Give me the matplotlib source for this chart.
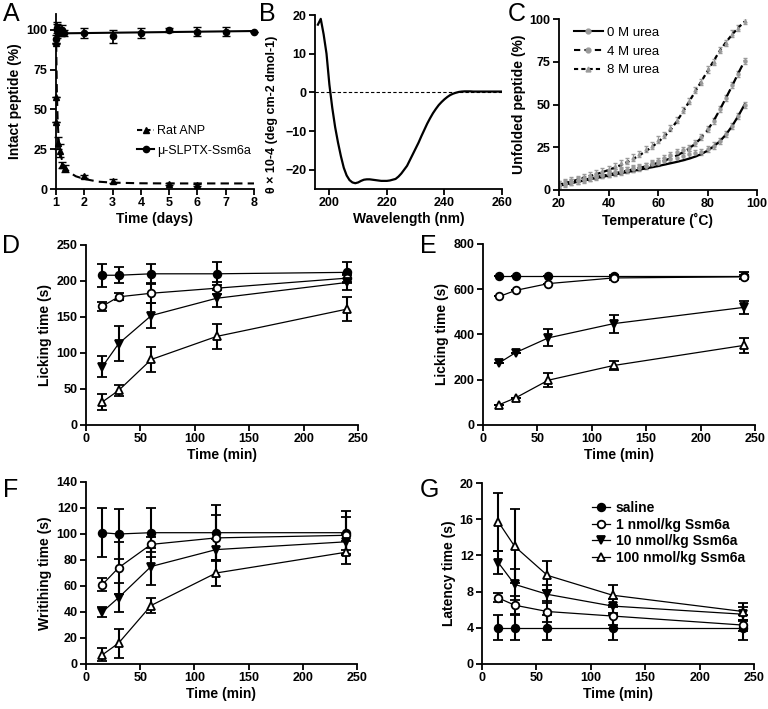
import matplotlib
matplotlib.use("Agg")
import matplotlib.pyplot as plt
import numpy as np

plt.rcParams['font.family'] = ['Liberation Sans', 'DejaVu Sans']
plt.rcParams['mathtext.default'] = 'regular'

# ---------------- Panel A data ----------------
anp_x = [1.0, 1.0, 1.01, 1.08, 1.14, 1.22, 1.32, 2, 3, 5, 6]
anp_y = [92, 58, 42, 29, 24, 15, 13, 8, 5, 3, 2.5]
anp_err = [0, 0, 0, 4, 4, 2, 2, 1, 1, 0.5, 0.5]
anp_fit_x = [1.0, 1.03, 1.06, 1.1, 1.15, 1.2, 1.3, 1.4, 1.5, 1.7, 2.0, 2.5, 3.0, 4.0, 5.0, 6.0, 7.0, 8.0]
anp_fit_y = [100, 62, 42, 30, 23, 19, 14.5, 12, 10.2, 8.0, 6.3, 4.6, 4.0, 3.6, 3.5, 3.5, 3.5, 3.5]
ssm_x = [1.0, 1.02, 1.04, 1.06, 1.08, 1.1, 1.15, 1.2, 1.3, 2, 3, 4, 5, 6, 7, 8]
ssm_y = [94, 100, 101, 99, 100, 98, 99, 100, 98, 98, 96, 98, 100, 99, 99, 99]
ssm_err = [3, 5, 3, 2, 3, 2, 2, 3, 2, 3, 4, 3, 1, 3, 3, 0]
ssm_fit_x = [1.0, 8.0]
ssm_fit_y = [97.8, 99.3]

# ---------------- Panel B data ----------------
cd_wl = list(range(196, 261))
cd_theta = [17.5, 19.0, 15.0, 10.0, 2.0, -4.0, -9.0, -13.0, -16.5, -19.5, -21.5,
            -22.7, -23.3, -23.5, -23.3, -22.9, -22.6, -22.5, -22.5, -22.6, -22.7,
            -22.8, -22.9, -22.9, -22.9, -22.8, -22.6, -22.4, -21.8, -21.0, -20.0,
            -19.0, -17.5, -16.0, -14.5, -13.0, -11.3, -9.7, -8.1, -6.7, -5.4,
            -4.3, -3.3, -2.5, -1.8, -1.2, -0.7, -0.35, -0.1, 0.1, 0.2,
            0.25, 0.25, 0.25, 0.2, 0.2, 0.2, 0.2, 0.2, 0.2, 0.2, 0.2, 0.2, 0.2, 0.2]

# ---------------- Panel C data ----------------
temp = [20, 22.5, 25, 27.5, 30, 32.5, 35, 37.5, 40, 42.5, 45, 47.5, 50, 52.5, 55,
        57.5, 60, 62.5, 65, 67.5, 70, 72.5, 75, 77.5, 80, 82.5, 85, 87.5, 90, 92.5, 95]
u0_pts = [3.0, 3.5, 4.8, 5.2, 6.0, 6.9, 7.5, 8.6, 9.5, 10.2, 10.6, 11.8, 12.5, 13.1, 14.2,
          15.0, 15.8, 17.0, 18.2, 18.5, 19.6, 20.8, 21.5, 22.4, 24.0, 26.0, 28.8, 32.6, 37.4, 43.2, 49.5]
u0_fit = [2.5, 3.3, 4.0, 4.8, 5.5, 6.3, 7.0, 7.7, 8.4, 9.1, 9.8, 10.5, 11.2, 11.9, 12.6,
          13.3, 14.0, 14.8, 15.6, 16.4, 17.3, 18.3, 19.5, 21.0, 23.0, 25.5, 28.5, 32.5, 37.5, 43.5, 50.0]
u4_pts = [3.2, 4.0, 4.8, 5.6, 6.5, 7.2, 8.1, 8.9, 9.6, 10.5, 11.0, 11.9, 12.6, 13.5, 14.2,
          15.6, 16.8, 18.5, 20.6, 22.0, 23.5, 24.5, 27.5, 31.0, 35.8, 40.2, 47.5, 53.6, 61.4, 68.0, 75.2]
u4_fit = [2.5, 3.4, 4.3, 5.1, 5.9, 6.7, 7.5, 8.3, 9.0, 9.8, 10.5, 11.3, 12.1, 12.9, 13.8,
          14.8, 15.9, 17.1, 18.5, 20.1, 22.0, 24.2, 27.0, 30.5, 35.0, 40.5, 47.0, 54.0, 61.0, 68.5, 75.5]
u8_pts = [3.5, 4.5, 5.8, 6.5, 7.6, 8.8, 9.8, 11.0, 12.4, 13.8, 15.5, 16.8, 19.0, 21.0, 23.8,
          26.0, 29.5, 32.0, 36.5, 41.0, 46.8, 52.0, 58.5, 63.0, 70.5, 75.0, 82.0, 86.0, 91.5, 94.5, 99.0]
u8_fit = [3.0, 4.0, 5.0, 6.0, 7.0, 8.1, 9.2, 10.4, 11.7, 13.1, 14.6, 16.3, 18.2, 20.3, 22.6,
          25.1, 28.0, 31.2, 35.0, 40.0, 45.5, 51.5, 57.5, 63.5, 69.5, 75.5, 81.5, 86.5, 91.0, 95.0, 98.5]
urea_labels = ['0 M urea', '4 M urea', '8 M urea']

# ---------------- Panels D-G data ----------------
t = [15, 30, 60, 120, 240]
groups = ['saline', '1 nmol/kg Ssm6a', '10 nmol/kg Ssm6a', '100 nmol/kg Ssm6a']

D_y = [[208, 208, 210, 210, 212], [165, 178, 183, 190, 204],
       [81, 113, 152, 176, 198], [32, 48, 91, 123, 161]]
D_e = [[16, 11, 13, 16, 15], [6, 5, 13, 8, 6],
       [15, 24, 17, 12, 10], [11, 8, 17, 17, 17]]

E_y = [[660, 660, 660, 660, 660], [568, 595, 625, 650, 655],
       [275, 320, 385, 448, 520], [90, 120, 198, 263, 352]]
E_e = [[0, 0, 0, 5, 15], [0, 0, 0, 8, 8],
       [0, 0, 38, 40, 28], [0, 0, 30, 18, 32]]

F_y = [[101, 100, 101, 101, 101], [61, 74, 92, 97, 99],
       [40, 51, 75, 88, 94], [7, 16, 45, 70, 86]]
F_e = [[19, 19, 19, 21, 17], [5, 20, 6, 18, 14],
       [4, 11, 14, 8, 6], [5, 11, 6, 10, 9]]

G_y = [[4, 4, 4, 4, 4], [7.3, 6.5, 5.8, 5.3, 4.3],
       [11.2, 8.8, 7.7, 6.4, 5.5], [15.7, 13.0, 9.8, 7.6, 5.8]]
G_e = [[1.4, 1.4, 1.4, 1.4, 1.4], [0.5, 1.0, 1.2, 1.0, 0.6],
       [1.3, 1.7, 1.0, 0.8, 0.8], [3.2, 4.1, 1.6, 1.1, 0.9]]

# ---------------- figure ----------------
W, H = 768, 709
fig = plt.figure(figsize=(W / 100, H / 100), dpi=100)

def add_ax(l, r, t_, b):
    return fig.add_axes([l / W, 1 - b / H, (r - l) / W, (b - t_) / H])

TICK = 9
LAB = 10

def style(ax):
    for s in ['top', 'right']:
        ax.spines[s].set_visible(False)
    for s in ['left', 'bottom']:
        ax.spines[s].set_linewidth(1.3)
    ax.tick_params(direction='out', length=4, width=1.3, labelsize=TICK, pad=2)
    for lbl in ax.get_xticklabels() + ax.get_yticklabels():
        lbl.set_fontweight('bold')

def letter(x, y, s):
    fig.text(x / W, 1 - y / H, s, fontsize=18, ha='left', va='top')

# Panel A
axA = add_ax(56, 254, 14, 189)
axA.plot(anp_fit_x, anp_fit_y, 'k--', lw=1.5, dashes=(4, 2.5))
axA.errorbar(anp_x, anp_y, yerr=anp_err, fmt='^', color='k', ms=5, lw=0,
             elinewidth=1.3, capsize=3, clip_on=False)
axA.plot(ssm_fit_x, ssm_fit_y, 'k-', lw=1.5)
axA.errorbar(ssm_x, ssm_y, yerr=ssm_err, fmt='o', color='k', ms=4.5, lw=0,
             elinewidth=1.3, capsize=3, clip_on=False)
axA.set_xlim(1, 8)
axA.set_ylim(0, 110)
axA.set_xticks(range(1, 9))
axA.set_yticks([0, 25, 50, 75, 100])
axA.set_xlabel('Time (days)', fontsize=LAB, fontweight='bold', labelpad=2)
axA.set_ylabel('Intact peptide (%)', fontsize=LAB, fontweight='bold', labelpad=3)
hA1, = axA.plot([], [], 'k--', marker='^', ms=4, lw=1.5, dashes=(2.5, 1.5))
hA2, = axA.plot([], [], 'k-', marker='o', ms=4.5, lw=1.5)
axA.legend([hA1, hA2], ['Rat ANP', 'μ-SLPTX-Ssm6a'], loc='upper left',
           bbox_to_anchor=(0.38, 0.40), frameon=False, fontsize=9,
           handlelength=1.3, handletextpad=0.3, labelspacing=0.6, borderpad=0)
style(axA)

# Panel B
axB = add_ax(315, 502, 15, 189)
axB.axhline(0, color='k', lw=0.8, ls=(0, (3, 2)))
axB.plot(cd_wl, cd_theta, 'k-', lw=1.6)
axB.set_xlim(195, 260)
axB.set_ylim(-25, 20)
axB.set_xticks([200, 220, 240, 260])
axB.set_yticks([-20, -10, 0, 10, 20])
axB.set_xlabel('Wavelength (nm)', fontsize=LAB, fontweight='bold', labelpad=2)
axB.set_ylabel('θ × 10-4 (deg cm-2 dmol-1)', fontsize=9, fontweight='bold', labelpad=3)
axB.yaxis.set_label_coords(-0.2, 0.43)
style(axB)

# Panel C
axC = add_ax(559, 757, 19, 190)
gray = '#9a9a9a'
for pts, mk in zip([u0_pts, u4_pts, u8_pts], ['o', 'o', '^']):
    axC.errorbar(temp, pts, yerr=1.8, fmt=mk, color=gray, ms=2.2, lw=0,
                 elinewidth=0.9, capsize=1.2)
axC.plot(temp, u0_fit, 'k-', lw=1.6)
axC.plot(temp, u4_fit, 'k--', lw=1.6, dashes=(4, 2))
axC.plot(temp, u8_fit, 'k--', lw=1.6, dashes=(2, 1.5))
axC.set_xlim(20, 100)
axC.set_ylim(0, 100)
axC.set_xticks([20, 40, 60, 80, 100])
axC.set_yticks([0, 25, 50, 75, 100])
axC.set_xlabel('Temperature (˚C)', fontsize=LAB, fontweight='bold', labelpad=2)
axC.set_ylabel('Unfolded peptide (%)', fontsize=LAB, fontweight='bold', labelpad=3)
hC = [axC.plot([], [], color='k', ls='-', lw=1.5, marker='o', ms=3.5, mfc=gray, mec=gray)[0],
      axC.plot([], [], color='k', ls='--', dashes=(3, 2), lw=1.5, marker='o', ms=3.5, mfc=gray, mec=gray)[0],
      axC.plot([], [], color='k', ls='--', dashes=(2, 1.5), lw=1.5, marker='^', ms=3.5, mfc=gray, mec=gray)[0]]
axC.legend(hC, urea_labels, loc='upper left', bbox_to_anchor=(0.04, 0.995),
           frameon=False, fontsize=9.5, handlelength=2.2, handletextpad=0.3,
           labelspacing=0.5, borderpad=0)
style(axC)

# Panels D-G
markers = [dict(marker='o', mfc='k'), dict(marker='o', mfc='white'),
           dict(marker='v', mfc='k'), dict(marker='^', mfc='white')]

def dose_panel(ax, Y, E, ylim, yticks, ylabel):
    for y, e, m in zip(Y, E, markers):
        ax.errorbar(t, y, yerr=e, color='k', lw=0.9, elinewidth=1.5, capsize=3.5,
                    capthick=1.5, mec='k', mew=1.3, ms=5.5, clip_on=False, **m)
    ax.set_xlim(0, 250)
    ax.set_ylim(*ylim)
    ax.set_xticks([0, 50, 100, 150, 200, 250])
    ax.set_yticks(yticks)
    ax.set_xlabel('Time (min)', fontsize=LAB, fontweight='bold', labelpad=2)
    ax.set_ylabel(ylabel, fontsize=LAB, fontweight='bold', labelpad=3)
    style(ax)

axD = add_ax(86, 358, 245, 425)
dose_panel(axD, D_y, D_e, (0, 250), [0, 50, 100, 150, 200, 250], 'Licking time (s)')
axE = add_ax(483, 755, 244, 425)
dose_panel(axE, E_y, E_e, (0, 800), [0, 200, 400, 600, 800], 'Licking time (s)')
axF = add_ax(86, 357, 482, 664)
dose_panel(axF, F_y, F_e, (0, 140), list(range(0, 141, 20)), 'Writihing time (s)')
axG = add_ax(482, 754, 483, 664)
dose_panel(axG, G_y, G_e, (0, 20), [0, 4, 8, 12, 16, 20], 'Latency time (s)')
hG = [axG.plot([], [], color='k', lw=0.9, ms=5.5, mec='k', mew=1.3, **m)[0] for m in markers]
leg = axG.legend(hG, groups, loc='upper left', bbox_to_anchor=(0.38, 0.94),
                 frameon=False, fontsize=10, handlelength=1.3, handletextpad=0.4,
                 labelspacing=0.2, borderpad=0)
for txt in leg.get_texts():
    txt.set_fontweight('bold')

letter(3, 2, 'A')
letter(259, 2, 'B')
letter(508, 2, 'C')
letter(2, 234, 'D')
letter(420, 234, 'E')
letter(3, 478, 'F')
letter(420, 478, 'G')

fig.savefig('out.png', dpi=100)
